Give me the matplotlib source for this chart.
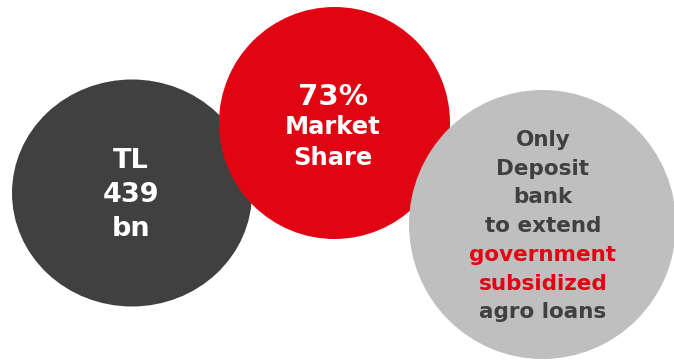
import matplotlib.pyplot as plt
from matplotlib.patches import Ellipse

# Text shown inside each bubble
volume_lines = ["TL", "439", "bn"]
share_lines = ["73%", "Market", "Share"]
agro_lines = ["Only", "Deposit", "bank", "to extend",
              "government", "subsidized", "agro loans"]
agro_highlight = ["government", "subsidized"]

DARK = "#404040"
RED = "#E10514"
LIGHT = "#BFBFBF"

fig = plt.figure(figsize=(6.74, 3.61), dpi=100)
ax = fig.add_axes([0, 0, 1, 1])
ax.set_xlim(0, 674)
ax.set_ylim(361, 0)
ax.axis("off")

# bubbles: dark first, then red, then light grey on top
ax.add_patch(Ellipse((132, 193), 240, 227, color=DARK, lw=0, zorder=1))
ax.add_patch(Ellipse((334.5, 123), 231, 232, color=RED, lw=0, zorder=2))
ax.add_patch(Ellipse((542.5, 224.5), 267, 269, color=LIGHT, lw=0, zorder=3))


def write_lines(lines, x, y0, step, sizes, colors):
    for i, line in enumerate(lines):
        ax.text(x, y0 + i * step, line, ha="center", va="center",
                fontsize=sizes[i], fontweight="bold", color=colors[i],
                family="DejaVu Sans", zorder=5)


write_lines(volume_lines, 131, 161, 34, [19.5] * 3, ["white"] * 3)
write_lines(share_lines, 333, 97, 30.5, [21, 17.5, 17.5], ["white"] * 3)
agro_colors = [RED if l in agro_highlight else DARK for l in agro_lines]
write_lines(agro_lines, 543, 140, 28.7, [15.5] * 7, agro_colors)

fig.savefig("out.png", dpi=100)
